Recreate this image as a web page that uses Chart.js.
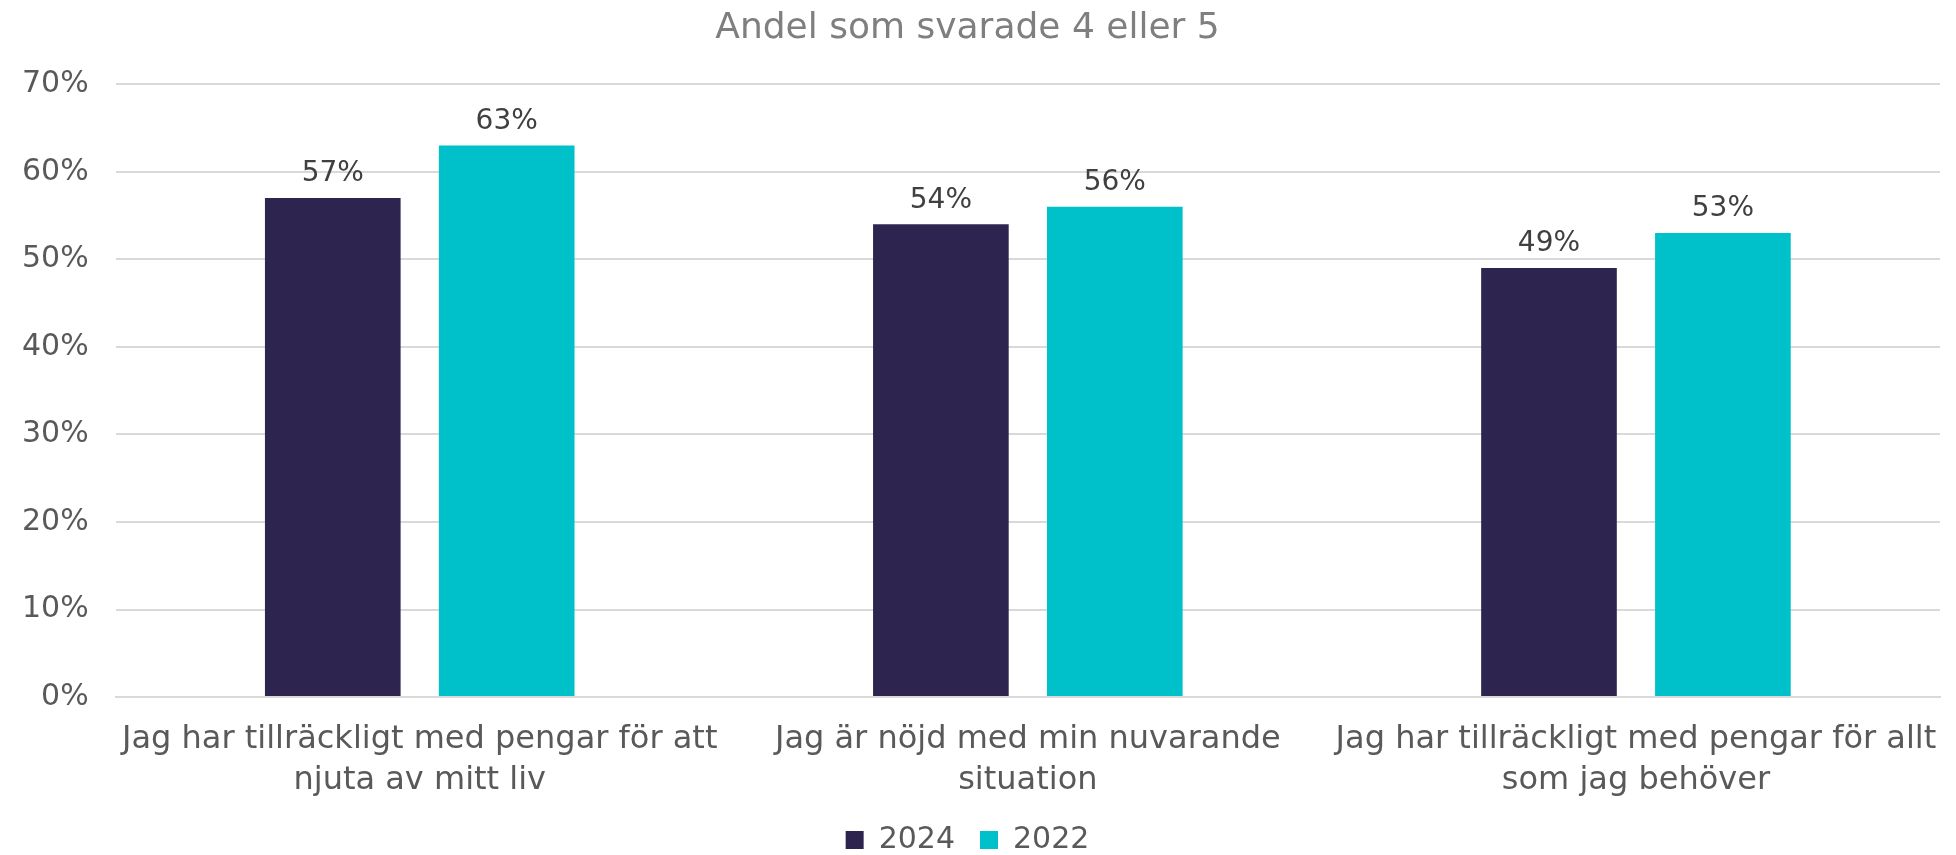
<!DOCTYPE html>
<html>
<head>
<meta charset="utf-8">
<script src="https://cdn.jsdelivr.net/npm/chart.js@4"></script>
<style>
  html, body { margin: 0; padding: 0; background: #fff; }
  #wrap { width: 1956px; height: 855px; }
</style>
</head>
<body>
<div id="wrap"><canvas id="grafik"></canvas></div>
<script>
// Data
const kategorier = [
  ["Jag har tillräckligt med pengar för att", "njuta av mitt liv"],
  ["Jag är nöjd med min nuvarande", "situation"],
  ["Jag har tillräckligt med pengar för allt", "som jag behöver"]
];
const ar2024 = [57, 54, 49];
const ar2022 = [63, 56, 53];
const yTicks = [0, 10, 20, 30, 40, 50, 60, 70];

const FONT = "'DejaVu Sans', sans-serif";

// etiketter ovanför staplarna
const stapelEtiketter = {
  id: "stapelEtiketter",
  afterDatasetsDraw(chart) {
    const ctx = chart.ctx;
    ctx.save();
    ctx.font = "28px " + FONT;
    ctx.fillStyle = "#404040";
    ctx.textAlign = "center";
    ctx.textBaseline = "bottom";
    chart.data.datasets.forEach((ds, i) => {
      chart.getDatasetMeta(i).data.forEach((bar, j) => {
        ctx.fillText(ds.data[j] + "%", bar.x, bar.y - 10);
      });
    });
    ctx.restore();
  }
};

new Chart(document.getElementById("grafik"), {
  type: "bar",
  data: {
    labels: kategorier,
    datasets: [
      { label: "2024", data: ar2024, backgroundColor: "#2D2550" },
      { label: "2022", data: ar2022, backgroundColor: "#00C1CA" }
    ]
  },
  options: {
    responsive: true,
    maintainAspectRatio: false,
    animation: false,
    categoryPercentage: 0.572,
    barPercentage: 0.78,
    layout: { padding: { left: -5, right: 16, top: 0, bottom: -10 } },
    plugins: {
      title: {
        display: true,
        text: "Andel som svarade 4 eller 5",
        color: "#7f7f7f",
        font: { family: FONT, size: 36, weight: "normal" },
        padding: { top: 7, bottom: 34 }
      },
      legend: {
        position: "bottom",
        labels: {
          color: "#595959",
          font: { family: FONT, size: 30 },
          boxWidth: 18,
          boxHeight: 18,
          padding: 25
        }
      },
      tooltip: { enabled: false }
    },
    scales: {
      x: {
        grid: { display: false },
        border: { display: true, color: "#d9d9d9", width: 2 },
        ticks: {
          color: "#595959",
          font: { family: FONT, size: 32, lineHeight: 1.28 },
          maxRotation: 0,
          padding: 14
        },
        afterFit(axis) { axis.height -= 15; }
      },
      y: {
        min: 0,
        max: 70,
        afterBuildTicks(axis) { axis.ticks = yTicks.map(v => ({ value: v })); },
        grid: { color: "#d9d9d9", lineWidth: 2, drawTicks: false },
        border: { display: false },
        ticks: {
          color: "#595959",
          font: { family: FONT, size: 30 },
          padding: 27,
          callback: v => v + "%"
        }
      }
    }
  },
  plugins: [stapelEtiketter]
});
</script>
</body>
</html>
